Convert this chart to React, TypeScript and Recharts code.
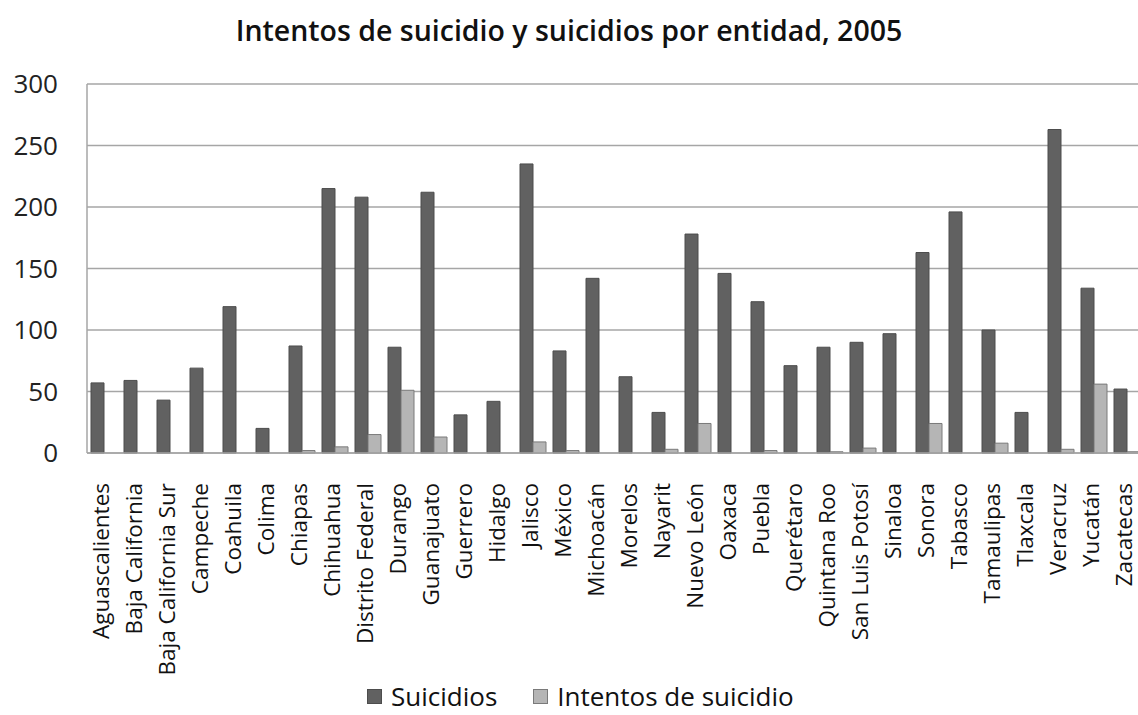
import { BarChart, Bar, XAxis, YAxis, CartesianGrid } from 'recharts';

// Entidades federativas
const states = [
  'Aguascalientes', 'Baja California', 'Baja California Sur', 'Campeche', 'Coahuila', 'Colima',
  'Chiapas', 'Chihuahua', 'Distrito Federal', 'Durango', 'Guanajuato', 'Guerrero', 'Hidalgo',
  'Jalisco', 'México', 'Michoacán', 'Morelos', 'Nayarit', 'Nuevo León', 'Oaxaca', 'Puebla',
  'Querétaro', 'Quintana Roo', 'San Luis Potosí', 'Sinaloa', 'Sonora', 'Tabasco', 'Tamaulipas',
  'Tlaxcala', 'Veracruz', 'Yucatán', 'Zacatecas',
];

const suicidios = [
  57, 59, 43, 69, 119, 20, 87, 215, 208, 86, 212, 31, 42, 235, 83, 142, 62, 33, 178, 146, 123,
  71, 86, 90, 97, 163, 196, 100, 33, 263, 134, 52,
];

const intentos = [
  0, 0, 0, 0, 0, 0, 2, 5, 15, 51, 13, 0, 0, 9, 2, 0, 0, 3, 24, 0, 2,
  0, 1, 4, 0, 24, 0, 8, 0, 3, 56, 1,
];

const yTicks = [0, 50, 100, 150, 200, 250, 300];

const data = states.map((name, i) => ({
  name,
  Suicidios: suicidios[i],
  Intentos: intentos[i],
}));

const FONT = '"Open Sans", Lato, sans-serif';

const StateTick = (props: any) => {
  const { x, y, payload } = props;
  return (
    <text
      x={0}
      y={0}
      transform={`translate(${x + 5},${y + 22}) rotate(-90)`}
      textAnchor="end"
      fontSize={22.5}
      fontFamily={FONT}
      fill="#111"
    >
      {payload.value}
    </text>
  );
};

const App = () => {
  return (
    <div style={{ position: 'absolute', left: 0, top: 0, width: 1138, height: 715, overflow: 'hidden', background: '#fff', fontFamily: FONT }}>
      <div style={{ position: 'absolute', left: 0, width: 1138, top: 11, textAlign: 'center', fontSize: 28.5, fontWeight: 600, color: '#111', whiteSpace: 'nowrap' }}>
        Intentos de suicidio y suicidios por entidad, 2005
      </div>
      <BarChart
        width={1143}
        height={715}
        data={data}
        margin={{ top: 84, right: 0, left: 0, bottom: 0 }}
        barGap={0}
        barSize={13}
      >
        <CartesianGrid vertical={false} stroke="#a6a6a6" strokeWidth={1.5} />
        <XAxis
          dataKey="name"
          interval={0}
          height={262}
          tickLine={false}
          axisLine={{ stroke: '#a6a6a6', strokeWidth: 1.5 }}
          tick={<StateTick />}
        />
        <YAxis
          width={87}
          domain={[0, 300]}
          ticks={yTicks}
          tickLine={false}
          tickSize={0}
          tickMargin={29}
          axisLine={{ stroke: '#a6a6a6', strokeWidth: 1.5 }}
          tick={{ fontSize: 26, fill: '#222', fontFamily: FONT }}
        />
        <Bar dataKey="Suicidios" fill="#616161" stroke="#4d4d4d" isAnimationActive={false} />
        <Bar dataKey="Intentos" fill="#b5b5b5" stroke="#7a7a7a" isAnimationActive={false} />
      </BarChart>
      <div style={{ position: 'absolute', left: 367, top: 683, height: 26, lineHeight: 1, display: 'flex', alignItems: 'center', fontSize: 26, color: '#111', whiteSpace: 'nowrap' }}>
        <span style={{ width: 13, height: 13, background: '#616161', border: '1px solid #4d4d4d', marginRight: 9 }} />
        <span>Suicidios</span>
        <span style={{ width: 13, height: 13, background: '#b5b5b5', border: '1px solid #7a7a7a', marginLeft: 36, marginRight: 9 }} />
        <span>Intentos de suicidio</span>
      </div>
    </div>
  );
};

export default App;
